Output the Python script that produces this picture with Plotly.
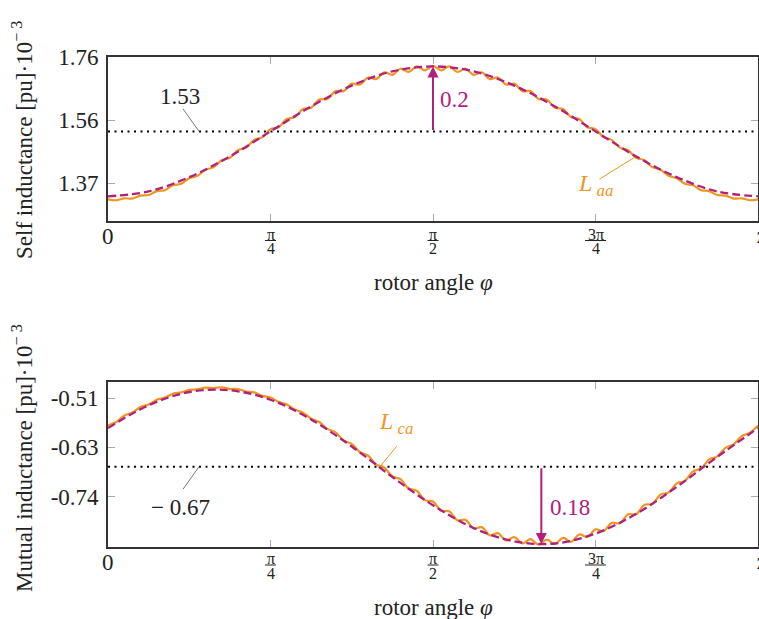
import math
import plotly.graph_objects as go

PI = math.pi

# ---------------- data ----------------
# sample grids (rotor angle, rad)
phi_fine = [k * PI / 80 for k in range(81)]
phi_coarse = [j * PI / 16 for j in range(17)]

# self inductance L_aa [pu * 1e-3] (simulated, with slot ripple)
laa_sim = [1.321, 1.318, 1.324, 1.323, 1.332, 1.334, 1.346, 1.349, 1.364, 1.369,
           1.386, 1.393, 1.412, 1.420, 1.441, 1.449, 1.472, 1.480, 1.504, 1.512,
           1.537, 1.543, 1.568, 1.574, 1.599, 1.603, 1.628, 1.630, 1.654, 1.654,
           1.677, 1.674, 1.696, 1.691, 1.712, 1.704, 1.723, 1.713, 1.730, 1.718,
           1.732,
           1.718, 1.730, 1.713, 1.723, 1.704, 1.712, 1.691, 1.696, 1.674, 1.677,
           1.654, 1.654, 1.630, 1.628, 1.603, 1.599, 1.574, 1.568, 1.543, 1.537,
           1.512, 1.504, 1.480, 1.472, 1.449, 1.441, 1.420, 1.412, 1.393, 1.386,
           1.369, 1.364, 1.349, 1.346, 1.334, 1.332, 1.323, 1.324, 1.318, 1.321]
# self inductance fit (dashed)
laa_fit = [1.330, 1.345, 1.389, 1.453, 1.530, 1.607, 1.671, 1.715, 1.730,
           1.715, 1.671, 1.607, 1.530, 1.453, 1.389, 1.345, 1.330]
laa_mean = 1.53
laa_amp = 0.2

# mutual inductance L_ca [pu * 1e-3]
lca_sim = [-0.574, -0.566, -0.551, -0.544, -0.531, -0.525, -0.514, -0.509, -0.500, -0.497,
           -0.491, -0.490, -0.486, -0.487, -0.485, -0.489, -0.489, -0.495, -0.497, -0.505,
           -0.509, -0.519, -0.525, -0.537, -0.544, -0.558, -0.566, -0.582, -0.590, -0.609,
           -0.617, -0.636, -0.644, -0.665, -0.672, -0.693, -0.699, -0.721, -0.726, -0.748,
           -0.751, -0.773, -0.774, -0.795, -0.794, -0.814, -0.811, -0.830, -0.825, -0.842,
           -0.834, -0.849, -0.839, -0.852, -0.840, -0.850, -0.836, -0.845, -0.828, -0.834,
           -0.816, -0.820, -0.801, -0.802, -0.781, -0.781, -0.759, -0.757, -0.735, -0.730,
           -0.709, -0.703, -0.681, -0.674, -0.653, -0.646, -0.626, -0.618, -0.599, -0.591,
           -0.574]
lca_fit = [-0.580, -0.527, -0.496, -0.492, -0.514, -0.560, -0.623, -0.694, -0.760,
           -0.813, -0.844, -0.849, -0.826, -0.780, -0.717, -0.647, -0.580]
lca_mean = -0.67
lca_amp = 0.18
lca_min_angle = 2 * PI / 3

# axis ticks
x_ticks = [0, PI / 4, PI / 2, 3 * PI / 4, PI]
top_yticks = [1.76, 1.565, 1.37]
top_yticktext = ["1.76", "1.56", "1.37"]
bot_yticks = [-0.51, -0.625, -0.74]
bot_yticktext = ["-0.51", "-0.63", "-0.74"]

# ---------------- style ----------------
ORANGE = "#F0961E"
MAGENTA = "#B0207F"
FONT = "Liberation Serif"
FS = 23
W, H = 759, 619
L_M, R_M = 108, 1
PW = W - L_M - R_M


def py(px):
    return 1 - px / H


def dx(px):  # pixels -> radians along x
    return px / PW * PI


top_dom = [py(220.7), py(56.7)]
bot_dom = [py(546.7), py(381.7)]

fig = go.Figure()

for xa, ya, sim, fit, mean in [("x", "y", laa_sim, laa_fit, laa_mean),
                                ("x2", "y2", lca_sim, lca_fit, lca_mean)]:
    fig.add_trace(go.Scatter(x=[0, PI], y=[mean, mean], xaxis=xa, yaxis=ya,
                             mode="lines", line=dict(color="black", width=2, dash="2px,4.5px"),
                             hoverinfo="skip"))
    fig.add_trace(go.Scatter(x=phi_fine, y=sim, xaxis=xa, yaxis=ya, mode="lines",
                             line=dict(color=ORANGE, width=2.2, shape="spline")))
    fig.add_trace(go.Scatter(x=phi_coarse, y=fit, xaxis=xa, yaxis=ya, mode="lines",
                             line=dict(color=MAGENTA, width=2.3, dash="8px,4px", shape="spline")))

axis_common = dict(showline=True, mirror="ticks", linecolor="#333", linewidth=1.6,
                   ticks="inside", ticklen=7, tickcolor="#aaa", tickwidth=1,
                   showgrid=False, zeroline=False, automargin=False)

fig.update_layout(
    width=W, height=H,
    margin=dict(l=L_M, r=R_M, t=0, b=0, pad=0, autoexpand=False),
    paper_bgcolor="white", plot_bgcolor="white",
    showlegend=False,
    font=dict(family=FONT, size=FS, color="#222"),
    xaxis=dict(domain=[0, 1], range=[0, PI], anchor="y", tickvals=x_ticks,
               showticklabels=False, **axis_common),
    yaxis=dict(domain=top_dom, range=[1.255, 1.76], anchor="x", tickvals=top_yticks,
               ticktext=top_yticktext, tickfont=dict(size=FS), ticklabelstandoff=3,
               **axis_common),
    xaxis2=dict(domain=[0, 1], range=[0, PI], anchor="y2", tickvals=x_ticks,
                showticklabels=False, **axis_common),
    yaxis2=dict(domain=bot_dom, range=[-0.8565, -0.472], anchor="x2", tickvals=bot_yticks,
                ticktext=bot_yticktext, tickfont=dict(size=FS), ticklabelstandoff=3,
                **axis_common),
)

ann = []
shapes = []

# x tick labels (fractions of pi)
fracs = [(PI / 4, "π", "4", 5.5), (PI / 2, "π", "2", 5.5), (3 * PI / 4, "3π", "4", 10.5)]
for (num_y, bar_y, den_y, zero_y, pi_y, title_y) in [(234.5, 240.5, 248.5, 236.7, 236, 282),
                                                     (558.5, 565, 573, 562, 561, 607)]:
    for xv, num, den, hw in fracs:
        ann.append(dict(x=xv / PI, y=py(num_y), xref="paper", yref="paper", text=num,
                        showarrow=False, font=dict(size=16), xanchor="center", yanchor="middle"))
        ann.append(dict(x=xv / PI, y=py(den_y), xref="paper", yref="paper", text=den,
                        showarrow=False, font=dict(size=16), xanchor="center", yanchor="middle"))
        shapes.append(dict(type="line", xref="paper", yref="paper",
                           x0=(xv - dx(hw)) / PI, x1=(xv + dx(hw)) / PI,
                           y0=py(bar_y), y1=py(bar_y), line=dict(color="#222", width=1)))
    ann.append(dict(x=0, y=py(zero_y), xref="paper", yref="paper", text="0",
                    showarrow=False, font=dict(size=FS), xanchor="center", yanchor="middle"))
    ann.append(dict(x=1, y=py(pi_y), xref="paper", yref="paper", text="<b><i>π</i></b>",
                    showarrow=False, font=dict(size=FS), xanchor="left", yanchor="middle",
                    xshift=-3))
    ann.append(dict(x=(433 - L_M) / PW, y=py(title_y), xref="paper", yref="paper",
                    text="rotor angle <i>φ</i>", showarrow=False, font=dict(size=FS),
                    xanchor="center", yanchor="middle"))

# y titles
ann.append(dict(x=(22 - L_M) / PW, y=py(140), xref="paper", yref="paper", textangle=-90,
                text="Self inductance [pu]·10<sup>− 3</sup>", showarrow=False,
                font=dict(size=FS), xanchor="center", yanchor="middle"))
ann.append(dict(x=(22 - L_M) / PW, y=py(458), xref="paper", yref="paper", textangle=-90,
                text="Mutual inductance [pu]·10<sup>− 3</sup>", showarrow=False,
                font=dict(size=FS), xanchor="center", yanchor="middle"))

# mean value labels with leaders
ann.append(dict(x=0.348, y=1.639, xref="x", yref="y", text="1.53", showarrow=False,
                font=dict(size=FS)))
ann.append(dict(x=0.4398, y=laa_mean, xref="x", yref="y", text="", showarrow=True,
                arrowhead=0, arrowwidth=0.8, arrowcolor="#555", ax=-17, ay=-24))
ann.append(dict(x=0.348, y=-0.766, xref="x2", yref="y2", text="− 0.67", showarrow=False,
                font=dict(size=FS)))
ann.append(dict(x=0.4398, y=lca_mean, xref="x2", yref="y2", text="", showarrow=True,
                arrowhead=0, arrowwidth=0.8, arrowcolor="#555", ax=-17, ay=24))

# amplitude arrows
ann.append(dict(x=PI / 2, y=laa_mean + laa_amp, xref="x", yref="y", axref="x", ayref="y",
                ax=PI / 2, ay=laa_mean, text="", showarrow=True, arrowhead=2, arrowsize=1.1,
                arrowwidth=2, arrowcolor=MAGENTA))
ann.append(dict(x=1.677, y=1.627, xref="x", yref="y", text="0.2", showarrow=False,
                font=dict(size=FS, color=MAGENTA)))
ann.append(dict(x=lca_min_angle, y=lca_mean - lca_amp, xref="x2", yref="y2", axref="x2",
                ayref="y2", ax=lca_min_angle, ay=lca_mean, text="", showarrow=True,
                arrowhead=2, arrowsize=1.1, arrowwidth=2, arrowcolor=MAGENTA))
ann.append(dict(x=2.233, y=-0.766, xref="x2", yref="y2", text="0.18", showarrow=False,
                font=dict(size=FS, color=MAGENTA)))

# curve labels
ann.append(dict(x=2.354, y=1.365, xref="x", yref="y",
                text="<i>L</i><sub> <i>aa</i></sub>", showarrow=False,
                font=dict(size=24, color=ORANGE)))
ann.append(dict(x=2.547, y=1.451, xref="x", yref="y", text="", showarrow=True,
                arrowhead=0, arrowwidth=1, arrowcolor=ORANGE, ax=-37, ay=23))
ann.append(dict(x=1.392, y=-0.568, xref="x2", yref="y2",
                text="<i>L</i><sub> <i>ca</i></sub>", showarrow=False,
                font=dict(size=24, color=ORANGE)))
ann.append(dict(x=1.3147, y=lca_mean, xref="x2", yref="y2", text="", showarrow=True,
                arrowhead=0, arrowwidth=1, arrowcolor=ORANGE, ax=18, ay=-22))

fig.update_layout(annotations=ann, shapes=shapes)
fig.write_html("out.html", config={"displayModeBar": False},
               post_script="document.body.style.margin='0';document.body.style.overflow='hidden';")
